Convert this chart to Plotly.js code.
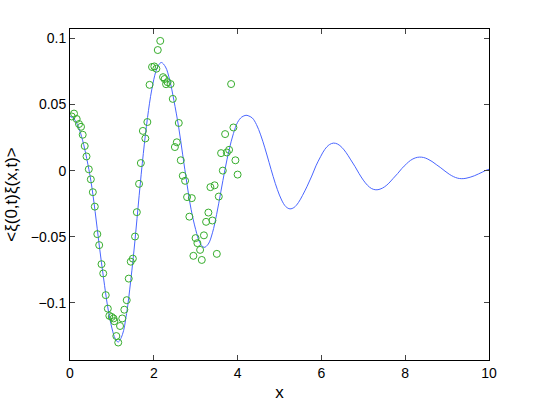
<!DOCTYPE html>
<html>
<head>
<meta charset="utf-8">
<script src="https://cdn.plot.ly/plotly-3.0.1.min.js"></script>
<style>
  html, body { margin: 0; padding: 0; background: #fff; }
  #plot { width: 540px; height: 406px; }
</style>
</head>
<body>
<div id="plot"></div>
<script>
// fitted curve, every 0.1
var lineX = [0.00, 0.10, 0.20, 0.30, 0.40, 0.50, 0.60, 0.70, 0.80, 0.90, 1.00, 1.08, 1.15,
             1.25, 1.35, 1.45, 1.55, 1.65, 1.75, 1.85, 1.95, 2.05, 2.12, 2.18,
             2.28, 2.38, 2.48, 2.59, 2.69, 2.79, 2.89, 3.00, 3.10, 3.20,
             3.30, 3.40, 3.50, 3.60, 3.70, 3.80, 3.90, 4.00, 4.10, 4.20, 4.25,
             4.35, 4.45, 4.55, 4.65, 4.75, 4.85, 4.95, 5.05, 5.15, 5.25,
             5.35, 5.45, 5.55, 5.66, 5.77, 5.87, 5.98, 6.08, 6.19, 6.29,
             6.39, 6.49, 6.59, 6.69, 6.80, 6.90, 7.00, 7.10, 7.20, 7.30,
             7.40, 7.51, 7.61, 7.71, 7.82, 7.92, 8.03, 8.13, 8.24, 8.34,
             8.44, 8.54, 8.64, 8.74, 8.85, 8.95, 9.05, 9.15, 9.25, 9.35,
             9.45, 9.55, 9.65, 9.75, 9.85, 9.95, 10.0];
var lineY = [0.041, 0.039, 0.033, 0.023, 0.009, -0.008, -0.031, -0.057, -0.081, -0.103, -0.119, -0.127, -0.1295,
             -0.124, -0.108, -0.083, -0.053, -0.019, 0.013, 0.040, 0.061, 0.075, 0.080, 0.0817,
             0.0783, 0.0684, 0.0530, 0.0335, 0.0119, -0.0097, -0.0292, -0.0446, -0.0545, -0.058,
             -0.0555, -0.047, -0.033, -0.016, 0.001, 0.016, 0.028, 0.0365, 0.0405, 0.0418, 0.0415,
             0.0398, 0.0348, 0.0270, 0.0172, 0.0063, -0.0046, -0.0144, -0.0222, -0.0272, -0.0289,
             -0.0278, -0.0242, -0.0187, -0.0118, -0.0041, 0.0036, 0.0105, 0.0160, 0.0196, 0.0208,
             0.0200, 0.0175, 0.0136, 0.0087, 0.0032, -0.0023, -0.0072, -0.0111, -0.0136, -0.0145,
             -0.0140, -0.0122, -0.0095, -0.0060, -0.0022, 0.0016, 0.0051, 0.0078, 0.0096, 0.0102,
             0.0099, 0.0087, 0.0069, 0.0046, 0.0021, -0.0004, -0.0027, -0.0045, -0.0057, -0.0061,
             -0.0058, -0.0050, -0.0039, -0.0025, -0.0010, 0.0005, 0.0010];

// measured samples
var sampX = [0.041, 0.096, 0.160, 0.215, 0.263, 0.303, 0.351, 0.394, 0.449, 0.497, 0.545, 0.592, 0.652, 0.697,
             0.752, 0.793, 0.853, 0.903, 0.939, 0.996, 1.039, 1.058, 1.106, 1.151, 1.194, 1.247, 1.297, 1.354,
             1.402, 1.450, 1.500, 1.552, 1.595, 1.648, 1.691, 1.739, 1.798, 1.846, 1.899, 1.958, 2.013, 2.061,
             2.095, 2.154, 2.221, 2.257, 2.293, 2.329, 2.400, 2.453, 2.596, 2.549, 2.503, 2.644, 2.692, 2.747,
             2.794, 2.907, 2.849, 3.303, 3.248, 3.399, 2.997, 3.196, 3.040, 3.105, 2.945, 3.145, 3.504, 3.351,
             3.451, 3.551, 3.647, 4.000, 3.948, 3.606, 3.743, 3.797, 3.702, 3.900, 3.845];
var sampY = [0.0409, 0.0431, 0.0390, 0.0352, 0.0331, 0.0271, 0.0186, 0.0107, 0.0010, -0.0066, -0.0163, -0.0272, -0.0480, -0.0563,
             -0.0707, -0.0777, -0.0941, -0.1043, -0.1097, -0.1106, -0.1117, -0.1138, -0.1250, -0.1299, -0.1174, -0.1117, -0.1051, -0.0979,
             -0.0816, -0.0688, -0.0665, -0.0498, -0.0314, -0.0100, 0.0057, 0.0300, 0.0243, 0.0367, 0.0648, 0.0783, 0.0787, 0.0770,
             0.0911, 0.0980, 0.0706, 0.0692, 0.0653, 0.0668, 0.0654, 0.0542, 0.0360, 0.0214, 0.0178, 0.0078, -0.0039, -0.0077,
             -0.0200, -0.0208, -0.0348, -0.0317, -0.0387, -0.0377, -0.0510, -0.0489, -0.0548, -0.0599, -0.0644, -0.0675, -0.0629, -0.0125,
             -0.0111, -0.0196, 0.0000, -0.0030, 0.0078, 0.0132, 0.0137, 0.0157, 0.0276, 0.0326, 0.0654];

var xTicks = [0, 2, 4, 6, 8, 10];
var yTicks = [-0.1, -0.05, 0, 0.05, 0.1];
var yTickText = ['\u22120.1', '\u22120.05', '0', '0.05', '0.1'];

var curve = {
  x: lineX,
  y: lineY,
  mode: 'lines',
  type: 'scatter',
  line: {color: '#4a66ff', width: 1, shape: 'spline', smoothing: 1},
  hoverinfo: 'skip'
};

var samples = {
  x: sampX,
  y: sampY,
  mode: 'markers',
  type: 'scatter',
  marker: {symbol: 'circle-open', size: 7, color: '#36ad2c', line: {width: 1}}
};

var layout = {
  width: 540,
  height: 406,
  margin: {l: 70, r: 51, t: 29, b: 46},
  showlegend: false,
  paper_bgcolor: '#fff',
  plot_bgcolor: '#fff',
  font: {family: 'Liberation Sans, Arial, sans-serif', size: 14, color: '#000'},
  xaxis: {
    title: {text: 'x', standoff: 6},
    range: [0, 10],
    tickvals: xTicks,
    ticks: 'inside',
    ticklen: 5,
    showgrid: false,
    zeroline: false,
    showline: true,
    linecolor: '#000',
    linewidth: 1,
    mirror: 'ticks'
  },
  yaxis: {
    title: {text: '&lt;\u03be(0,t)\u03be(x,t)&gt;', standoff: 8},
    range: [-0.1431, 0.1070],
    tickvals: yTicks,
    ticktext: yTickText,
    ticks: 'inside',
    ticklen: 5,
    showgrid: false,
    zeroline: false,
    showline: true,
    linecolor: '#000',
    linewidth: 1,
    mirror: 'ticks'
  }
};

Plotly.newPlot('plot', [curve, samples], layout, {displayModeBar: false, staticPlot: true});
</script>
</body>
</html>
